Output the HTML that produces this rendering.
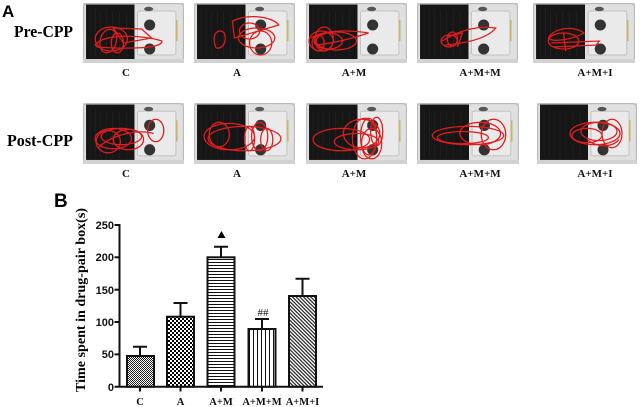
<!DOCTYPE html>
<html><head><meta charset="utf-8"><style>
html,body{margin:0;padding:0;background:#fff;}
svg{display:block;}
</style></head><body>
<svg width="640" height="407" viewBox="0 0 640 407" xmlns="http://www.w3.org/2000/svg">
<defs>
<symbol id="bg" viewBox="0 0 100 60" preserveAspectRatio="none">
 <rect width="100" height="60" fill="#cdcdcd" stroke="none"/>
 <rect x="0.8" y="0.8" width="98.4" height="58.4" rx="3" fill="#e0e0e0" stroke="#a8a8a8" stroke-width="0.6"/>
 <rect x="3" y="1.5" width="48" height="55" fill="#161616" stroke="none"/>
 <g stroke="#262626" stroke-width="0.5">
  <line x1="7" y1="5" x2="7" y2="54"/><line x1="12" y1="5" x2="12" y2="54"/>
  <line x1="17" y1="8" x2="17" y2="54"/><line x1="23" y1="8" x2="23" y2="54"/>
  <line x1="29" y1="8" x2="29" y2="54"/><line x1="36" y1="8" x2="36" y2="54"/>
  <line x1="43" y1="8" x2="43" y2="54"/>
 </g>
 <rect x="51" y="2.5" width="45" height="54" fill="#e0e0e0" stroke="none"/>
 <rect x="54" y="8" width="38" height="44" rx="2" fill="#eaeaea" stroke="#b3b3b3" stroke-width="0.7"/>
 <ellipse cx="65" cy="6" rx="4.5" ry="2.2" fill="#555" stroke="none"/>
 <circle cx="66" cy="22" r="5.5" fill="#333" stroke="none"/>
 <circle cx="66" cy="46" r="5.5" fill="#333" stroke="none"/>
 <rect x="92" y="17" width="1.6" height="21" fill="#c9b565" stroke="none"/>
 <rect x="0" y="56" width="100" height="4" fill="#d2d2d2" stroke="none"/>
</symbol>
<pattern id="pC" width="2" height="2" patternUnits="userSpaceOnUse">
 <rect width="2" height="2" fill="#fff"/><rect width="1" height="1" fill="#222"/><rect x="1" y="1" width="1" height="1" fill="#222"/>
</pattern>
<pattern id="pA" width="4" height="4" patternUnits="userSpaceOnUse">
 <rect width="4" height="4" fill="#fff"/><rect width="2" height="2" fill="#000"/><rect x="2" y="2" width="2" height="2" fill="#000"/>
</pattern>
<pattern id="pH" width="3" height="3" patternUnits="userSpaceOnUse">
 <rect width="3" height="3" fill="#fff"/><rect y="1" width="3" height="1" fill="#111"/>
</pattern>
<pattern id="pV" width="4" height="4" patternUnits="userSpaceOnUse">
 <rect width="4" height="4" fill="#fff"/><rect x="1" width="1" height="4" fill="#111"/>
</pattern>
<pattern id="pD" width="2.6" height="2.6" patternUnits="userSpaceOnUse" patternTransform="rotate(45)">
 <rect width="2.6" height="2.6" fill="#fff"/><rect width="2.6" height="1.2" fill="#222"/>
</pattern>
</defs>

<!-- Panel A -->
<text x="2" y="17" font-family="Liberation Sans, sans-serif" font-weight="bold" font-size="17">A</text>
<text x="14" y="37" font-family="Liberation Serif, serif" font-weight="bold" font-size="17" textLength="59" lengthAdjust="spacingAndGlyphs">Pre-CPP</text>
<text x="7" y="146" font-family="Liberation Serif, serif" font-weight="bold" font-size="17" textLength="66" lengthAdjust="spacingAndGlyphs">Post-CPP</text>

<!-- Pre row -->
<svg x="83" y="3" width="101" height="60" viewBox="0 0 100 60" preserveAspectRatio="none">
 <use href="#bg" width="100" height="60" stroke="none"/>
 <g fill="none" stroke="#e01c1c" stroke-width="1.25">
 <ellipse cx="28" cy="36" rx="16" ry="12"/>
 <ellipse cx="25" cy="38" rx="8" ry="12" transform="rotate(15 25 38)"/>
 <path d="M12,42 C20,30 60,32 78,38 C80,46 40,46 14,44 Z"/>
 <path d="M30,25 L58,26 L68,35 L40,40 Z"/>
 <ellipse cx="34" cy="40" rx="6" ry="10"/>
 </g>
</svg>
<svg x="194" y="3" width="101" height="60" viewBox="0 0 100 60" preserveAspectRatio="none">
 <use href="#bg" width="100" height="60" stroke="none"/>
 <g fill="none" stroke="#e01c1c" stroke-width="1.25">
 <path d="M22,45 C16,32 24,24 30,30 C33,40 28,46 22,45 Z"/>
 <path d="M38,18 C55,10 78,14 84,22 L40,35 Z"/>
 <ellipse cx="62" cy="35" rx="18" ry="10"/>
 <ellipse cx="66" cy="40" rx="11" ry="12"/>
 <ellipse cx="55" cy="28" rx="10" ry="8"/>
 </g>
</svg>
<svg x="306" y="3" width="101" height="60" viewBox="0 0 100 60" preserveAspectRatio="none">
 <use href="#bg" width="100" height="60" stroke="none"/>
 <g fill="none" stroke="#e01c1c" stroke-width="1.25">
 <ellipse cx="15" cy="38" rx="12" ry="10"/>
 <ellipse cx="18" cy="36" rx="9" ry="12"/>
 <ellipse cx="22" cy="38" rx="14" ry="8"/>
 <path d="M5,35 C20,25 50,28 62,30 C50,34 30,40 10,42"/>
 <ellipse cx="30" cy="38" rx="20" ry="9"/>
 <ellipse cx="12" cy="40" rx="6" ry="8"/>
 </g>
</svg>
<svg x="417" y="3" width="101" height="60" viewBox="0 0 100 60" preserveAspectRatio="none">
 <use href="#bg" width="100" height="60" stroke="none"/>
 <g fill="none" stroke="#e01c1c" stroke-width="1.25">
 <ellipse cx="32" cy="38" rx="8" ry="6"/>
 <ellipse cx="35" cy="36" rx="5" ry="7"/>
 <path d="M25,38 C40,28 60,22 78,25 C70,35 50,40 28,42"/>
 <path d="M30,33 L45,30 L40,44"/>
 </g>
</svg>
<svg x="533" y="3" width="102" height="60" viewBox="0 0 100 60" preserveAspectRatio="none">
 <use href="#bg" width="100" height="60" stroke="none"/>
 <g fill="none" stroke="#e01c1c" stroke-width="1.25">
 <path d="M15,35 C20,25 40,22 50,30 C40,36 20,40 15,35 Z"/>
 <ellipse cx="30" cy="38" rx="15" ry="8"/>
 <path d="M18,40 L65,38 L62,42 L20,44"/>
 <path d="M30,30 L32,48"/>
 </g>
</svg>

<!-- Post row -->
<svg x="83" y="103" width="101" height="61" viewBox="0 0 100 60" preserveAspectRatio="none">
 <use href="#bg" width="100" height="60" stroke="none"/>
 <g fill="none" stroke="#e01c1c" stroke-width="1.25">
 <ellipse cx="30" cy="35" rx="18" ry="10"/>
 <ellipse cx="38" cy="33" rx="20" ry="8"/>
 <ellipse cx="25" cy="38" rx="12" ry="11"/>
 <ellipse cx="45" cy="36" rx="15" ry="10"/>
 <ellipse cx="72" cy="27" rx="8" ry="11"/>
 <path d="M15,44 C30,30 55,26 70,30"/>
 </g>
</svg>
<svg x="194" y="103" width="101" height="61" viewBox="0 0 100 60" preserveAspectRatio="none">
 <use href="#bg" width="100" height="60" stroke="none"/>
 <g fill="none" stroke="#e01c1c" stroke-width="1.25">
 <ellipse cx="35" cy="33" rx="25" ry="13"/>
 <ellipse cx="50" cy="35" rx="36" ry="12"/>
 <ellipse cx="65" cy="33" rx="8" ry="14"/>
 <ellipse cx="55" cy="35" rx="5" ry="12"/>
 <ellipse cx="25" cy="31" rx="10" ry="12"/>
 <ellipse cx="72" cy="36" rx="6" ry="11"/>
 </g>
</svg>
<svg x="306" y="103" width="101" height="61" viewBox="0 0 100 60" preserveAspectRatio="none">
 <use href="#bg" width="100" height="60" stroke="none"/>
 <g fill="none" stroke="#e01c1c" stroke-width="1.25">
 <ellipse cx="58" cy="35" rx="12" ry="20"/>
 <ellipse cx="62" cy="33" rx="8" ry="18"/>
 <ellipse cx="35" cy="36" rx="28" ry="11"/>
 <ellipse cx="55" cy="30" rx="18" ry="14"/>
 <ellipse cx="65" cy="40" rx="10" ry="15"/>
 <ellipse cx="50" cy="38" rx="22" ry="8"/>
 <ellipse cx="70" cy="28" rx="6" ry="14"/>
 </g>
</svg>
<svg x="417" y="103" width="102" height="61" viewBox="0 0 100 60" preserveAspectRatio="none">
 <use href="#bg" width="100" height="60" stroke="none"/>
 <g fill="none" stroke="#e01c1c" stroke-width="1.25">
 <ellipse cx="50" cy="32" rx="35" ry="9"/>
 <ellipse cx="62" cy="30" rx="20" ry="11"/>
 <ellipse cx="75" cy="31" rx="12" ry="15"/>
 <ellipse cx="45" cy="34" rx="25" ry="6"/>
 </g>
</svg>
<svg x="537" y="103" width="100" height="61" viewBox="0 0 100 60" preserveAspectRatio="none">
 <use href="#bg" width="100" height="60" stroke="none"/>
 <g fill="none" stroke="#e01c1c" stroke-width="1.25">
 <ellipse cx="58" cy="30" rx="25" ry="11"/>
 <ellipse cx="62" cy="28" rx="18" ry="9"/>
 <ellipse cx="75" cy="30" rx="10" ry="14"/>
 <ellipse cx="50" cy="32" rx="15" ry="7"/>
 <path d="M50,36 C60,44 75,44 82,36"/>
 </g>
</svg>

<g font-family="Liberation Serif, serif" font-weight="bold" font-size="11" text-anchor="middle" fill="#111">
 <text x="126" y="76">C</text>
 <text x="237" y="76">A</text>
 <text x="354" y="76">A+M</text>
 <text x="480" y="76">A+M+M</text>
 <text x="595" y="76">A+M+I</text>
 <text x="126" y="177">C</text>
 <text x="237" y="177">A</text>
 <text x="354" y="177">A+M</text>
 <text x="480" y="177">A+M+M</text>
 <text x="595" y="177">A+M+I</text>
</g>

<!-- Panel B -->
<text x="54" y="207" font-family="Liberation Sans, sans-serif" font-weight="bold" font-size="19">B</text>
<text transform="translate(85,300) rotate(-90)" text-anchor="middle" font-family="Liberation Serif, serif" font-weight="bold" font-size="14" textLength="184" lengthAdjust="spacingAndGlyphs">Time spent in drug-pair box(s)</text>

<g font-family="Liberation Sans, sans-serif" font-weight="bold" font-size="11" text-anchor="end" fill="#111">
 <text x="114" y="229">250</text>
 <text x="114" y="261">200</text>
 <text x="114" y="294">150</text>
 <text x="114" y="326">100</text>
 <text x="114" y="358">50</text>
 <text x="114" y="391">0</text>
</g>
<g stroke="#111" stroke-width="2" fill="none">
 <line x1="119.5" y1="224" x2="119.5" y2="387.5"/>
 <line x1="114.5" y1="225" x2="119.5" y2="225"/>
 <line x1="114.5" y1="257.3" x2="119.5" y2="257.3"/>
 <line x1="114.5" y1="289.7" x2="119.5" y2="289.7"/>
 <line x1="114.5" y1="322" x2="119.5" y2="322"/>
 <line x1="114.5" y1="354.4" x2="119.5" y2="354.4"/>
 <line x1="114.5" y1="386.7" x2="323" y2="386.7"/>
 <line x1="140" y1="386.7" x2="140" y2="391.5"/>
 <line x1="180.5" y1="386.7" x2="180.5" y2="391.5"/>
 <line x1="221" y1="386.7" x2="221" y2="391.5"/>
 <line x1="262" y1="386.7" x2="262" y2="391.5"/>
 <line x1="302.5" y1="386.7" x2="302.5" y2="391.5"/>
</g>

<!-- error bars -->
<g stroke="#111" stroke-width="2" fill="none">
 <path d="M140,356 V346.7 M133,346.7 H147"/>
 <path d="M180.5,316.7 V303 M173.5,303 H187.5"/>
 <path d="M221,257.3 V246.7 M214,246.7 H228"/>
 <path d="M262,329 V319 M255,319 H269"/>
 <path d="M302.5,296 V278.7 M295.5,278.7 H309.5"/>
</g>
<!-- bars -->
<g stroke="#111" stroke-width="2">
 <rect x="127" y="356" width="27" height="30.7" fill="url(#pC)"/>
 <rect x="167" y="316.7" width="27" height="70" fill="url(#pA)"/>
 <rect x="207.5" y="257.3" width="27" height="129.4" fill="url(#pH)"/>
 <rect x="248.5" y="329" width="27" height="57.7" fill="url(#pV)"/>
 <rect x="289" y="296" width="27" height="90.7" fill="url(#pD)"/>
</g>
<polygon points="217.5,238 225.5,238 221.5,231" fill="#000"/>
<text x="263" y="316" text-anchor="middle" font-family="Liberation Serif, serif" font-size="11" fill="#111">##</text>

<g font-family="Liberation Serif, serif" font-weight="bold" font-size="10.5" text-anchor="middle" fill="#111">
 <text x="140" y="405">C</text>
 <text x="180.5" y="405">A</text>
 <text x="221" y="405">A+M</text>
 <text x="262" y="405">A+M+M</text>
 <text x="302.5" y="405">A+M+I</text>
</g>
</svg>
</body></html>
